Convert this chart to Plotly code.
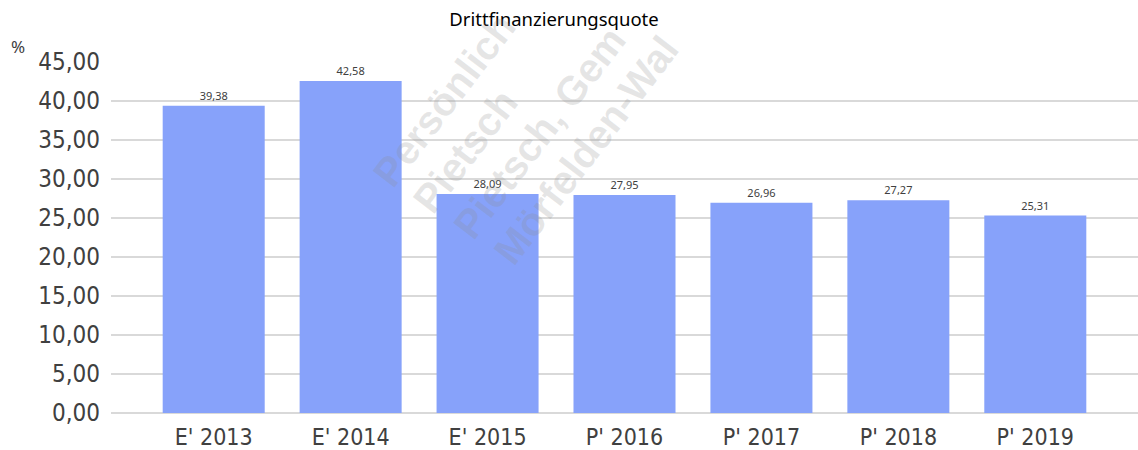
import plotly.graph_objects as go

# Chart data
categories = ["E' 2013", "E' 2014", "E' 2015", "P' 2016", "P' 2017", "P' 2018", "P' 2019"]
quote_values = [39.38, 42.58, 28.09, 27.95, 26.96, 27.27, 25.31]
y_tick_values = [0, 5, 10, 15, 20, 25, 30, 35, 40, 45]

# Watermark lines (text and centre position in pixels)
watermark_lines = ["Persönlich", "Pietsch", "Pietsch, Gem", "Mörfelden-Wal"]
watermark_centres_px = [(444, 100), (465, 151), (539, 133), (586, 150)]

W, H = 1138, 450
ML, MR, MT, MB = 111, 0, 62, 37
plot_w = W - ML - MR
plot_h = H - MT - MB

BAR_COLOR = "#87a2fa"
TEXT_COLOR = "#404040"
TICK_FONT = "DejaVu Sans Condensed, Liberation Sans, sans-serif"


def px_to_paper(px, py):
    """Convert a pixel position on the page to paper coordinates."""
    return (px - ML) / plot_w, (H - MB - py) / plot_h


fig = go.Figure()
fig.add_trace(go.Bar(
    x=categories,
    y=quote_values,
    marker=dict(color=BAR_COLOR, line=dict(width=0)),
    texttemplate="%{y:.2f}",
    textposition="outside",
    textfont=dict(size=11, color=TEXT_COLOR, family="Noto Sans, sans-serif"),
    cliponaxis=False,
    hoverinfo="x+y",
))

px_, py_ = px_to_paper(18, 47)
annotations = [
    dict(text="%", x=px_, y=py_, xref="paper", yref="paper", showarrow=False,
         xanchor="center", yanchor="middle",
         font=dict(size=17, color=TEXT_COLOR, family="Noto Sans, sans-serif")),
]

for line, (cx, cy) in zip(watermark_lines, watermark_centres_px):
    wx, wy = px_to_paper(cx, cy)
    annotations.append(dict(
        text=line,
        x=wx, y=wy,
        xref="paper", yref="paper",
        xanchor="center", yanchor="middle",
        textangle=-52.5, showarrow=False,
        font=dict(size=40, color="rgba(140,140,140,0.22)",
                  family="Liberation Sans, Arial, sans-serif", weight="bold"),
    ))

fig.update_layout(
    width=W, height=H,
    margin=dict(l=ML, r=MR, t=MT, b=MB, pad=0),
    paper_bgcolor="white",
    plot_bgcolor="white",
    separators=",.",
    showlegend=False,
    bargap=0.255,
    title=dict(text="Drittfinanzierungsquote", x=554 / W, xanchor="center",
               y=1 - 20 / H, yanchor="middle",
               font=dict(size=18.5, color="#000000", family="Noto Sans, sans-serif")),
    xaxis=dict(
        type="category",
        range=[-0.75, 6.75],
        showgrid=False, showline=False, zeroline=False,
        ticks="", ticklabelstandoff=8,
        tickfont=dict(size=23, color=TEXT_COLOR, family=TICK_FONT),
    ),
    yaxis=dict(
        range=[0, 45],
        tickvals=y_tick_values,
        tickformat=".2f",
        showgrid=True, gridcolor="#d9d9d9", gridwidth=2,
        zeroline=True, zerolinecolor="#d9d9d9", zerolinewidth=2,
        showline=False, ticks="", ticklabelstandoff=10,
        tickfont=dict(size=24, color=TEXT_COLOR, family=TICK_FONT),
    ),
    annotations=annotations,
)

fig.write_html("out.html")
